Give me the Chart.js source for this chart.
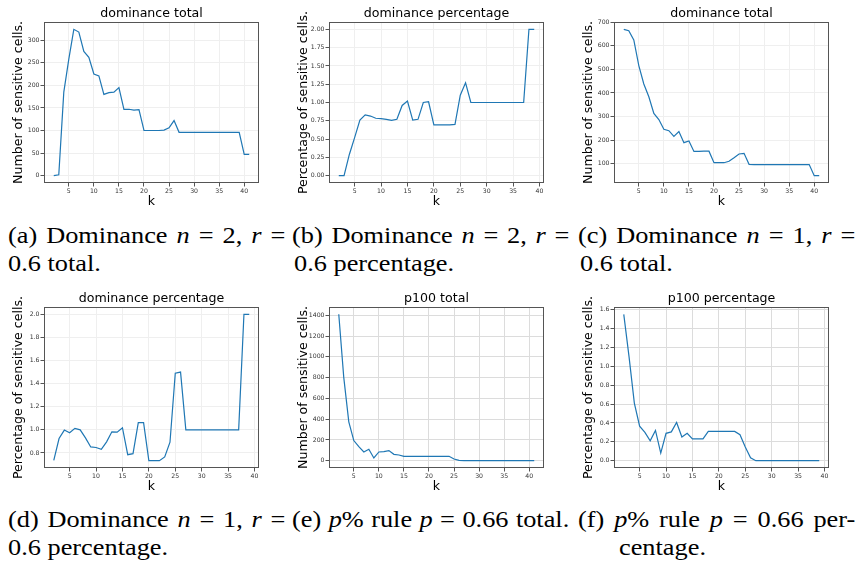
<!DOCTYPE html>
<html>
<head>
<meta charset="utf-8">
<script src="https://cdn.jsdelivr.net/npm/chart.js@4.4.0/dist/chart.umd.min.js"></script>
<style>
  body { margin: 0; background: #fff; width: 859px; height: 563px; position: relative; overflow: hidden; }
  canvas { position: absolute; }
  /* Times is narrower than Computer Modern, so stretch it a little */
  .cap { position: absolute; font-family: "Liberation Serif", serif; font-size: 22.5px; line-height: 28px; color: #000;
         white-space: nowrap; transform: scaleX(1.17); transform-origin: 0 0; }
  .l1 { text-align: justify; text-align-last: justify; width: 237px; }
</style>
</head>
<body>
<canvas id="chartA" width="285" height="210" style="left:0;top:0"></canvas>
<canvas id="chartB" width="285" height="210" style="left:285px;top:0"></canvas>
<canvas id="chartC" width="285" height="210" style="left:570px;top:0"></canvas>
<canvas id="chartD" width="285" height="210" style="left:0;top:285px"></canvas>
<canvas id="chartE" width="285" height="210" style="left:285px;top:285px"></canvas>
<canvas id="chartF" width="285" height="210" style="left:570px;top:285px"></canvas>

<div class="cap l1" style="left:8px;top:222px">(a) Dominance <i>n</i> = 2, <i>r</i> =</div>
<div class="cap" style="left:8px;top:250px">0.6 total.</div>
<div class="cap l1" style="left:292px;top:222px">(b) Dominance <i>n</i> = 2, <i>r</i> =</div>
<div class="cap" style="left:294px;top:250px">0.6 percentage.</div>
<div class="cap l1" style="left:578px;top:222px">(c) Dominance <i>n</i> = 1, <i>r</i> =</div>
<div class="cap" style="left:580px;top:250px">0.6 total.</div>

<div class="cap l1" style="left:8px;top:506px">(d) Dominance <i>n</i> = 1, <i>r</i> =</div>
<div class="cap" style="left:8px;top:534px">0.6 percentage.</div>
<div class="cap l1" style="left:292px;top:506px">(e) <i>p</i>% rule <i>p</i> = 0.66 total.</div>
<div class="cap l1" style="left:578px;top:506px">(f) <i>p</i>% rule <i>p</i> = 0.66 per-</div>
<div class="cap" style="left:619px;top:534px">centage.</div>

<script>
// k values for the two kinds of runs
var kTotal = [2, 3, 4, 5, 6, 7, 8, 9, 10, 11, 12, 13, 14, 15, 16, 17, 18, 19, 20, 21,
  22, 23, 24, 25, 26, 27, 28, 29, 30, 31, 32, 33, 34, 35, 36, 37, 38, 39, 40, 41];
var kPct = [2, 3, 4, 5, 6, 7, 8, 9, 10, 11, 12, 13, 14, 15, 16, 17, 18, 19, 20, 21,
  22, 23, 24, 25, 26, 27, 28, 29, 30, 31, 32, 33, 34, 35, 36, 37, 38, 39];

// (a) dominance n=2, r=0.6 total
var domN2Total = [0, 2, 185, 258, 324, 318, 275, 262, 225, 221, 180, 184, 185, 195, 147, 147, 145, 146,
  100, 100, 100, 100, 101, 106, 122, 96, 96, 96, 96, 96, 96, 96, 96, 96, 96, 96, 96, 96, 47, 47];
// (b) dominance n=2, r=0.6 percentage
var domN2Pct = [0, 0, 0.29, 0.52, 0.76, 0.83, 0.815, 0.785, 0.78, 0.77, 0.755, 0.77, 0.96, 1.02, 0.76, 0.77,
  1.0, 1.01, 0.695, 0.695, 0.695, 0.695, 0.70, 1.10, 1.27, 1.0, 1.0, 1.0, 1.0, 1.0, 1.0, 1.0, 1.0, 1.0, 1.0, 1.0,
  2.0, 2.0];
// (c) dominance n=1, r=0.6 total
var domN1Total = [670, 664, 625, 516, 438, 384, 313, 287, 246, 240, 216, 236, 189, 196, 152, 152, 153, 153,
  104, 104, 104, 110, 125, 141, 144, 97, 96, 96, 96, 96, 96, 96, 96, 96, 96, 96, 96, 96, 49, 49];
// (d) dominance n=1, r=0.6 percentage
var domN1Pct = [0.736, 0.925, 0.998, 0.975, 1.013, 1.0, 0.93, 0.852, 0.847, 0.832, 0.896, 0.983, 0.98, 1.018,
  0.785, 0.794, 1.062, 1.062, 0.733, 0.733, 0.733, 0.765, 0.893, 1.49, 1.50, 1.0, 1.0, 1.0, 1.0, 1.0, 1.0,
  1.0, 1.0, 1.0, 1.0, 1.0, 2.0, 2.0];
// (e) p% rule p=0.66 total
var p100Total = [1410, 800, 374, 194, 135, 84, 110, 26, 84, 87, 97, 61, 55, 42, 42, 42, 42, 42, 42, 42,
  42, 42, 42, 16, 3, 0, 0, 0, 0, 0, 0, 0, 0, 0, 0, 0, 0, 0, 0, 0];
// (f) p% rule p=0.66 percentage
var p100Pct = [1.55, 1.1, 0.61, 0.365, 0.30, 0.21, 0.32, 0.08, 0.29, 0.305, 0.405, 0.25, 0.29, 0.23, 0.23, 0.23,
  0.31, 0.31, 0.31, 0.31, 0.31, 0.31, 0.275, 0.145, 0.03, 0, 0, 0, 0, 0, 0, 0, 0, 0, 0, 0, 0, 0];

var xTicks = [5, 10, 15, 20, 25, 30, 35, 40];
var ticksA = [0, 50, 100, 150, 200, 250, 300];
var ticksB = [0, 0.25, 0.5, 0.75, 1.0, 1.25, 1.5, 1.75, 2.0];
var ticksC = [100, 200, 300, 400, 500, 600, 700];
var ticksD = [0.8, 1.0, 1.2, 1.4, 1.6, 1.8, 2.0];
var ticksE = [0, 200, 400, 600, 800, 1000, 1200, 1400];
var ticksF = [0, 0.2, 0.4, 0.6, 0.8, 1.0, 1.2, 1.4, 1.6];

var LINE = '#1f77b4';
var FONT = 'DejaVu Sans';
var LABEL_SIZE = 12.6;

// box round the plot area, like matplotlib spines
var framePlugin = {
  id: 'frame',
  afterDraw: function(chart) {
    var a = chart.chartArea, ctx = chart.ctx;
    ctx.save();
    ctx.strokeStyle = '#555';
    ctx.lineWidth = 1;
    ctx.strokeRect(Math.round(a.left) + 0.5, Math.round(a.top) + 0.5,
      Math.round(a.right - a.left) - 1, Math.round(a.bottom - a.top) - 1);
    ctx.restore();
  }
};

// title centred over the plot area, not over the whole canvas
var axTitlePlugin = {
  id: 'axTitle',
  afterDraw: function(chart, args, opts) {
    var a = chart.chartArea, ctx = chart.ctx;
    ctx.save();
    ctx.font = LABEL_SIZE + 'px "' + FONT + '"';
    ctx.fillStyle = '#000';
    ctx.textAlign = 'center';
    ctx.textBaseline = 'middle';
    ctx.fillText(opts.text, (a.left + a.right) / 2, a.top - 8);
    ctx.restore();
  }
};

// 5% padding around the data, as matplotlib does
function pad(vals) {
  var lo = Math.min.apply(null, vals), hi = Math.max.apply(null, vals);
  var m = (hi - lo) * 0.05;
  return {min: lo - m, max: hi + m};
}

function makeChart(id, title, yTitle, ks, vals, yTicks, decimals, gridColor) {
  var xr = pad(ks), yr = pad(vals);
  var points = ks.map(function(k, i) { return {x: k, y: vals[i]}; });
  return new Chart(document.getElementById(id), {
    type: 'line',
    data: {
      datasets: [{
        data: points,
        borderColor: LINE,
        borderWidth: 1.2,
        pointRadius: 0,
        tension: 0,
        fill: false
      }]
    },
    options: {
      responsive: false,
      animation: false,
      devicePixelRatio: 1,
      layout: {padding: {left: 0, right: 26, top: 22, bottom: 0}},
      plugins: {
        legend: {display: false},
        tooltip: {enabled: false},
        title: {display: false},
        axTitle: {text: title}
      },
      scales: {
        x: {
          type: 'linear', min: xr.min, max: xr.max,
          afterBuildTicks: function(axis) { axis.ticks = xTicks.map(function(v) { return {value: v}; }); },
          afterFit: function(axis) { axis.height = 27; },
          grid: {color: gridColor, tickColor: '#555', tickLength: 3.5, lineWidth: 1},
          border: {display: false},
          ticks: {
            autoSkip: false, maxRotation: 0, padding: 1, color: '#333',
            font: {family: FONT, size: 6.2},
            callback: function(v) { return String(v); }
          },
          title: {
            display: true, text: 'k', color: '#000',
            font: {family: FONT, size: LABEL_SIZE, lineHeight: 1.2},
            padding: {top: 0, bottom: 0.5}
          }
        },
        y: {
          type: 'linear', min: yr.min, max: yr.max,
          afterBuildTicks: function(axis) { axis.ticks = yTicks.map(function(v) { return {value: v}; }); },
          afterFit: function(axis) { axis.width = 44; },
          grid: {color: gridColor, tickColor: '#555', tickLength: 3.5, lineWidth: 1},
          border: {display: false},
          ticks: {
            autoSkip: false, padding: 1, color: '#333',
            font: {family: FONT, size: 6.2},
            callback: function(v) { return v.toFixed(decimals); }
          },
          title: {
            display: true, text: yTitle, color: '#000',
            font: {family: FONT, size: LABEL_SIZE, lineHeight: 1.2},
            padding: {top: 11.4, bottom: 0}
          }
        }
      }
    },
    plugins: [framePlugin, axTitlePlugin]
  });
}

var NUM = 'Number of sensitive cells.';
var PCT = 'Percentage of sensitive cells.';
var FAINT = '#efefef';
var GRID = '#dcdcdc';

makeChart('chartA', 'dominance total', NUM, kTotal, domN2Total, ticksA, 0, FAINT);
makeChart('chartB', 'dominance percentage', PCT, kPct, domN2Pct, ticksB, 2, FAINT);
makeChart('chartC', 'dominance total', NUM, kTotal, domN1Total, ticksC, 0, FAINT);
makeChart('chartD', 'dominance percentage', PCT, kPct, domN1Pct, ticksD, 1, FAINT);
makeChart('chartE', 'p100 total', NUM, kTotal, p100Total, ticksE, 0, GRID);
makeChart('chartF', 'p100 percentage', PCT, kPct, p100Pct, ticksF, 1, GRID);
</script>
</body>
</html>
